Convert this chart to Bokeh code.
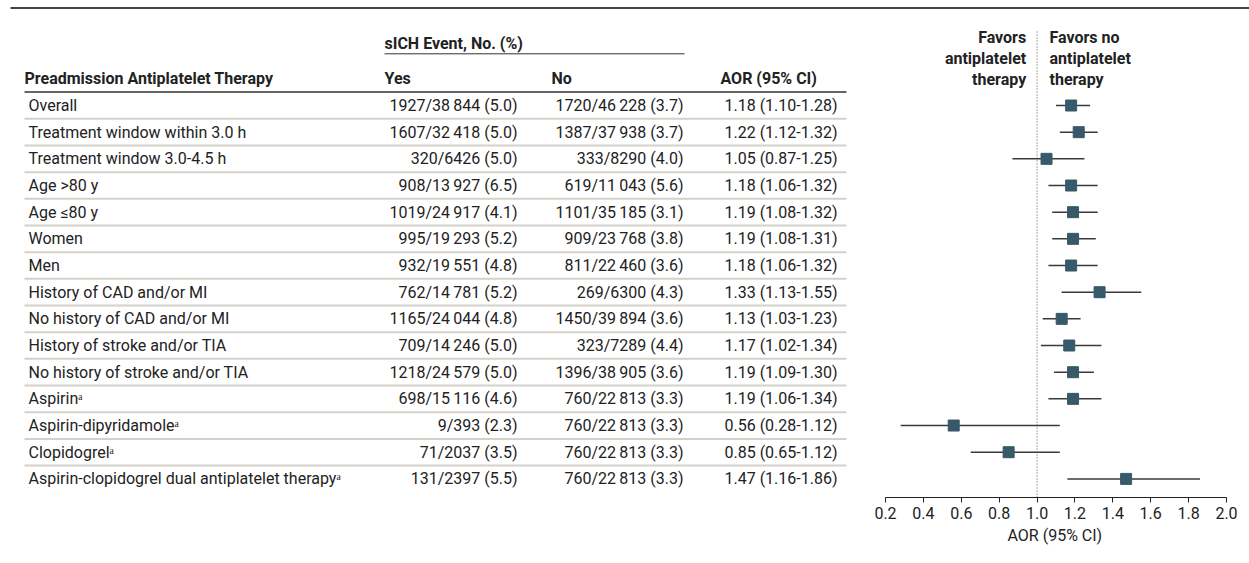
from bokeh.plotting import figure
from bokeh.models import Range1d, FixedTicker, NumeralTickFormatter, ColumnDataSource, Title
from bokeh.core.properties import value
from bokeh.embed import file_html
from bokeh.resources import INLINE

# ---------------- data ----------------
labels = [
    "Overall",
    "Treatment window within 3.0 h",
    "Treatment window 3.0-4.5 h",
    "Age >80 y",
    "Age \u226480 y",
    "Women",
    "Men",
    "History of CAD and/or MI",
    "No history of CAD and/or MI",
    "History of stroke and/or TIA",
    "No history of stroke and/or TIA",
    "Aspirin\u1d43",
    "Aspirin-dipyridamole\u1d43",
    "Clopidogrel\u1d43",
    "Aspirin-clopidogrel dual antiplatelet therapy\u1d43",
]
yes_events = [1927, 1607, 320, 908, 1019, 995, 932, 762, 1165, 709, 1218, 698, 9, 71, 131]
yes_totals = [38844, 32418, 6426, 13927, 24917, 19293, 19551, 14781, 24044, 14246, 24579, 15116, 393, 2037, 2397]
yes_pct = [5.0, 5.0, 5.0, 6.5, 4.1, 5.2, 4.8, 5.2, 4.8, 5.0, 5.0, 4.6, 2.3, 3.5, 5.5]
no_events = [1720, 1387, 333, 619, 1101, 909, 811, 269, 1450, 323, 1396, 760, 760, 760, 760]
no_totals = [46228, 37938, 8290, 11043, 35185, 23768, 22460, 6300, 39894, 7289, 38905, 22813, 22813, 22813, 22813]
no_pct = [3.7, 3.7, 4.0, 5.6, 3.1, 3.8, 3.6, 4.3, 3.6, 4.4, 3.6, 3.3, 3.3, 3.3, 3.3]
aor = [1.18, 1.22, 1.05, 1.18, 1.19, 1.19, 1.18, 1.33, 1.13, 1.17, 1.19, 1.19, 0.56, 0.85, 1.47]
aor_lo = [1.10, 1.12, 0.87, 1.06, 1.08, 1.08, 1.06, 1.13, 1.03, 1.02, 1.09, 1.06, 0.28, 0.65, 1.16]
aor_hi = [1.28, 1.32, 1.25, 1.32, 1.32, 1.31, 1.32, 1.55, 1.23, 1.34, 1.30, 1.34, 1.12, 1.12, 1.86]
x_ticks = [0.2, 0.4, 0.6, 0.8, 1.0, 1.2, 1.4, 1.6, 1.8, 2.0]

# ---------------- helpers ----------------
def num(n):
    s = str(n)
    if n >= 10000:
        s = s[:-3] + "\u2009" + s[-3:]
    return s

yes_txt = [f"{e}/{num(t)} ({p:.1f})" for e, t, p in zip(yes_events, yes_totals, yes_pct)]
no_txt = [f"{e}/{num(t)} ({p:.1f})" for e, t, p in zip(no_events, no_totals, no_pct)]
aor_txt = [f"{a:.2f} ({l:.2f}-{h:.2f})" for a, l, h in zip(aor, aor_lo, aor_hi)]
rows = list(range(len(labels)))

W, H = 1249, 563
FRAME_H = 497
ROW0, ROWH = 105.0, 26.67
X02, X20 = 885, 1226
PX_PER = (X20 - X02) / 1.8

FONT = value("Roboto")
FS = "16px"
TXT = "#222222"

p = figure(
    width=W, height=H,
    x_range=Range1d(0.2 - X02 / PX_PER, 2.0 + (W - X20) / PX_PER),
    y_range=Range1d((FRAME_H - ROW0) / ROWH, -ROW0 / ROWH),
    y_axis_type=None,
    output_backend="svg", toolbar_location=None,
    min_border_left=0, min_border_right=0, min_border_top=0, min_border_bottom=H - FRAME_H,
    background_fill_color="white", border_fill_color="white", outline_line_color=None,
)
p.extra_x_ranges = {"tx": Range1d(0, W)}
p.extra_y_ranges = {"py": Range1d(FRAME_H, 0)}
p.grid.visible = False

# ---------------- rules ----------------
p.segment(x0=[10], y0=[7.5], x1=[W], y1=[7.5], x_range_name="tx", y_range_name="py",
          line_color="#444444", line_width=2)
p.segment(x0=[384], y0=[53.3], x1=[684], y1=[53.3], x_range_name="tx", y_range_name="py",
          line_color="#333333", line_width=1)
p.segment(x0=[24], y0=[91.5], x1=[846], y1=[91.5], x_range_name="tx", y_range_name="py",
          line_color="#333333", line_width=1.5)
div_y = [r + 0.5 for r in rows[:-1]]
p.segment(x0=[24] * len(div_y), y0=div_y, x1=[846] * len(div_y), y1=div_y,
          x_range_name="tx", line_color="#d5d1c9", line_width=2)

# ---------------- header texts ----------------
def htext(xs, ys, ts, align="left", bold=True):
    p.text(x=xs, y=ys, text=ts, x_range_name="tx", y_range_name="py",
           text_font=FONT, text_font_size=FS, text_font_style="bold" if bold else "normal",
           text_align=align, text_baseline="middle", text_color=TXT)

htext([384], [42.7], ["sICH Event, No. (%)"])
htext([24, 384, 551, 720], [78] * 4,
      ["Preadmission Antiplatelet Therapy", "Yes", "No", "AOR (95% CI)"])
htext([1025.7] * 3, [37, 58, 79], ["Favors", "antiplatelet", "therapy"], align="right")
htext([1049] * 3, [37, 58, 79], ["Favors no", "antiplatelet", "therapy"], align="left")

# ---------------- table body ----------------
src = ColumnDataSource(dict(row=rows, label=labels, yes=yes_txt, no=no_txt, aor_t=aor_txt,
                            aor=aor, lo=aor_lo, hi=aor_hi))
for col, xx, al in (("label", 28, "left"), ("yes", 517, "right"), ("no", 683, "right"), ("aor_t", 837, "right")):
    p.text(x=xx, y="row", text=col, source=src, x_range_name="tx",
           text_font=FONT, text_font_size=FS, text_align=al, text_baseline="middle",
           text_color=TXT)

# ---------------- forest ----------------
p.segment(x0=[1.0], y0=[31], x1=[1.0], y1=[FRAME_H], y_range_name="py",
          line_color="#555555", line_width=1, line_dash="1 2")
p.segment(x0="lo", y0="row", x1="hi", y1="row", source=src, line_color="#3a3a3a", line_width=1.5)
p.scatter(x="aor", y="row", source=src, marker="square", size=11,
          fill_color="#37596a", line_color="#37596a")

# ---------------- axis ----------------
ax = p.xaxis[0]
ax.bounds = (0.2, 2.0)
ax.ticker = FixedTicker(ticks=x_ticks)
ax.formatter = NumeralTickFormatter(format="0.0")
ax.minor_tick_line_color = None
ax.major_tick_in = 0
ax.major_tick_out = 5
ax.axis_line_color = "#222222"
ax.major_tick_line_color = "#222222"
ax.major_label_text_font = "Roboto"
ax.major_label_text_font_size = FS
ax.major_label_text_color = TXT
ax.major_label_standoff = 4

p.add_layout(Title(text="AOR (95% CI)", align="left", offset=1007, standoff=4,
                   text_font="Roboto", text_font_size=FS, text_font_style="normal",
                   text_color=TXT), "below")

open("out.html", "w").write(file_html(p, INLINE))
